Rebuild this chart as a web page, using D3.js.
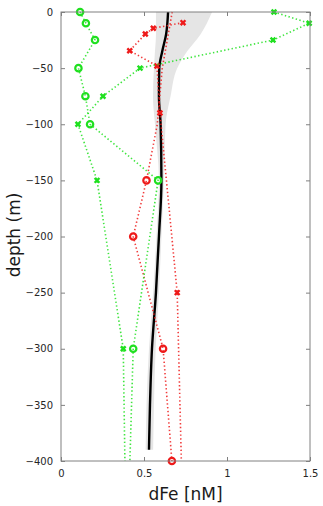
<!DOCTYPE html>
<html>
<head>
<meta charset="utf-8">
<script src="https://cdn.jsdelivr.net/npm/d3@7"></script>
<style>
  html, body { margin: 0; padding: 0; background: #fff; }
  svg { display: block; }
</style>
</head>
<body>
<div id="chart"></div>
<script>
// model mean profile and spread (grey band)
const meanDepth = [0, -20, -35, -50, -75, -100, -150, -200, -250, -300, -350, -390];
const meanFe    = [0.645, 0.633, 0.61, 0.592, 0.59, 0.60, 0.605, 0.59, 0.572, 0.548, 0.536, 0.53];
const bandLo    = [0.572, 0.572, 0.566, 0.56, 0.554, 0.566, 0.59, 0.575, 0.555, 0.53, 0.515, 0.51];
const bandHi    = [0.91, 0.84, 0.76, 0.70, 0.66, 0.63, 0.62, 0.605, 0.59, 0.57, 0.56, 0.555];

// green circles
const gCircDepth  = [0, -10, -25, -50, -75, -100, -150, -300, -400];
const gCircFe     = [0.115, 0.15, 0.205, 0.105, 0.147, 0.175, 0.585, 0.435, 0.415];
const gCircMarked = [1, 1, 1, 1, 1, 1, 1, 1, 0];

// green crosses
const gCrossDepth  = [0, -10, -25, -50, -75, -100, -150, -300, -400];
const gCrossFe     = [1.283, 1.495, 1.277, 0.476, 0.253, 0.102, 0.217, 0.375, 0.385];
const gCrossMarked = [1, 1, 1, 1, 1, 1, 1, 1, 0];

// red circles
const rCircDepth  = [0, -50, -100, -150, -200, -300, -400];
const rCircFe     = [0.67, 0.61, 0.58, 0.515, 0.435, 0.615, 0.668];
const rCircMarked = [0, 0, 0, 1, 1, 1, 1];

// red crosses
const rCrossDepth  = [-9.5, -14.5, -19.6, -34.5, -48, -90, -250, -400];
const rCrossFe     = [0.735, 0.556, 0.508, 0.414, 0.578, 0.596, 0.70, 0.725];
const rCrossMarked = [1, 1, 1, 1, 1, 1, 1, 0];

const xTicks = [0, 0.5, 1, 1.5];
const yTicks = [0, -50, -100, -150, -200, -250, -300, -350, -400];

const width = 323, height = 506;
const margin = { top: 12, right: 13, bottom: 45, left: 61 };
const innerWidth = width - margin.left - margin.right;
const innerHeight = height - margin.top - margin.bottom;

const GREEN = "#1fe01f", RED = "#ee1a1a", AXIS = "#808080";

const svg = d3.select("#chart").append("svg")
    .attr("width", width)
    .attr("height", height);

const g = svg.append("g")
    .attr("transform", `translate(${margin.left},${margin.top})`);

const x = d3.scaleLinear().domain([0, 1.5]).range([0, innerWidth]);
const y = d3.scaleLinear().domain([-400, 0]).range([innerHeight, 0]);

const clip = svg.append("defs").append("clipPath").attr("id", "plot-clip")
    .append("rect")
    .attr("x", -6).attr("y", -6)
    .attr("width", innerWidth + 12).attr("height", innerHeight + 12);

const plot = g.append("g").attr("clip-path", "url(#plot-clip)");

// grey band
const band = meanDepth.map((d, i) => ({ d, lo: bandLo[i], hi: bandHi[i] }));
plot.append("path")
    .datum(band)
    .attr("fill", "#e5e5e5")
    .attr("d", d3.area()
        .y(d => y(d.d))
        .x0(d => x(d.lo))
        .x1(d => x(d.hi))
        .curve(d3.curveMonotoneY));

// mean line
plot.append("path")
    .datum(meanDepth.map((d, i) => ({ d, v: meanFe[i] })))
    .attr("fill", "none")
    .attr("stroke", "#000")
    .attr("stroke-width", 2.4)
    .attr("d", d3.line().y(d => y(d.d)).x(d => x(d.v)).curve(d3.curveMonotoneY));

function drawSeries(depths, values, marked, color, shape) {
    const pts = depths.map((d, i) => ({ d, v: values[i], m: marked[i] }));
    plot.append("path")
        .datum(pts)
        .attr("fill", "none")
        .attr("stroke", color)
        .attr("stroke-opacity", 0.85)
        .attr("stroke-width", 1.6)
        .attr("stroke-dasharray", "1.4,2.4")
        .attr("d", d3.line().y(d => y(d.d)).x(d => x(d.v)));

    const m = plot.append("g").selectAll("g")
        .data(pts.filter(p => p.m))
        .join("g")
        .attr("transform", p => `translate(${x(p.v)},${y(p.d)})`);

    if (shape === "circle") {
        m.append("circle")
            .attr("r", 3.2)
            .attr("fill", "none")
            .attr("stroke", color)
            .attr("stroke-width", 2.2);
    } else {
        const s = 2.4;
        m.append("path")
            .attr("d", `M${-s},${-s}L${s},${s}M${-s},${s}L${s},${-s}`)
            .attr("stroke", color)
            .attr("stroke-width", 2.4);
    }
}

drawSeries(rCircDepth, rCircFe, rCircMarked, RED, "circle");
drawSeries(rCrossDepth, rCrossFe, rCrossMarked, RED, "cross");
drawSeries(gCircDepth, gCircFe, gCircMarked, GREEN, "circle");
drawSeries(gCrossDepth, gCrossFe, gCrossMarked, GREEN, "cross");

// frame
g.append("rect")
    .attr("x", 0).attr("y", 0)
    .attr("width", innerWidth).attr("height", innerHeight)
    .attr("fill", "none")
    .attr("stroke", AXIS)
    .attr("stroke-width", 1);

const fmt = v => (v < 0 ? "\u2212" + Math.abs(v) : String(v));

const yAxis = g.append("g")
    .call(d3.axisLeft(y).tickValues(yTicks).tickSizeInner(-4).tickSizeOuter(0).tickPadding(8).tickFormat(fmt));
const yAxisR = g.append("g")
    .attr("transform", `translate(${innerWidth},0)`)
    .call(d3.axisRight(y).tickValues(yTicks).tickSizeInner(-4).tickSizeOuter(0).tickFormat(""));
const xAxis = g.append("g")
    .attr("transform", `translate(0,${innerHeight})`)
    .call(d3.axisBottom(x).tickValues(xTicks).tickSizeInner(-4).tickSizeOuter(0).tickPadding(9).tickFormat(d3.format("")));
const xAxisT = g.append("g")
    .call(d3.axisTop(x).tickValues(xTicks).tickSizeInner(-4).tickSizeOuter(0).tickFormat(""));

[yAxis, yAxisR, xAxis, xAxisT].forEach(a => {
    a.select(".domain").remove();
    a.selectAll(".tick line").attr("stroke", AXIS);
    a.selectAll("text")
        .attr("fill", "#262626")
        .style("font-family", "DejaVu Sans, sans-serif")
        .style("font-size", "10px");
});

svg.append("text")
    .attr("x", margin.left + x(0.75))
    .attr("y", 500)
    .attr("text-anchor", "middle")
    .attr("fill", "#1a1a1a")
    .style("font-family", "DejaVu Sans, sans-serif")
    .style("font-size", "17px")
    .text("dFe [nM]");

svg.append("text")
    .attr("transform", `translate(20,235) rotate(-90)`)
    .attr("text-anchor", "middle")
    .attr("fill", "#1a1a1a")
    .style("font-family", "DejaVu Sans, sans-serif")
    .style("font-size", "17px")
    .text("depth (m)");
</script>
</body>
</html>
